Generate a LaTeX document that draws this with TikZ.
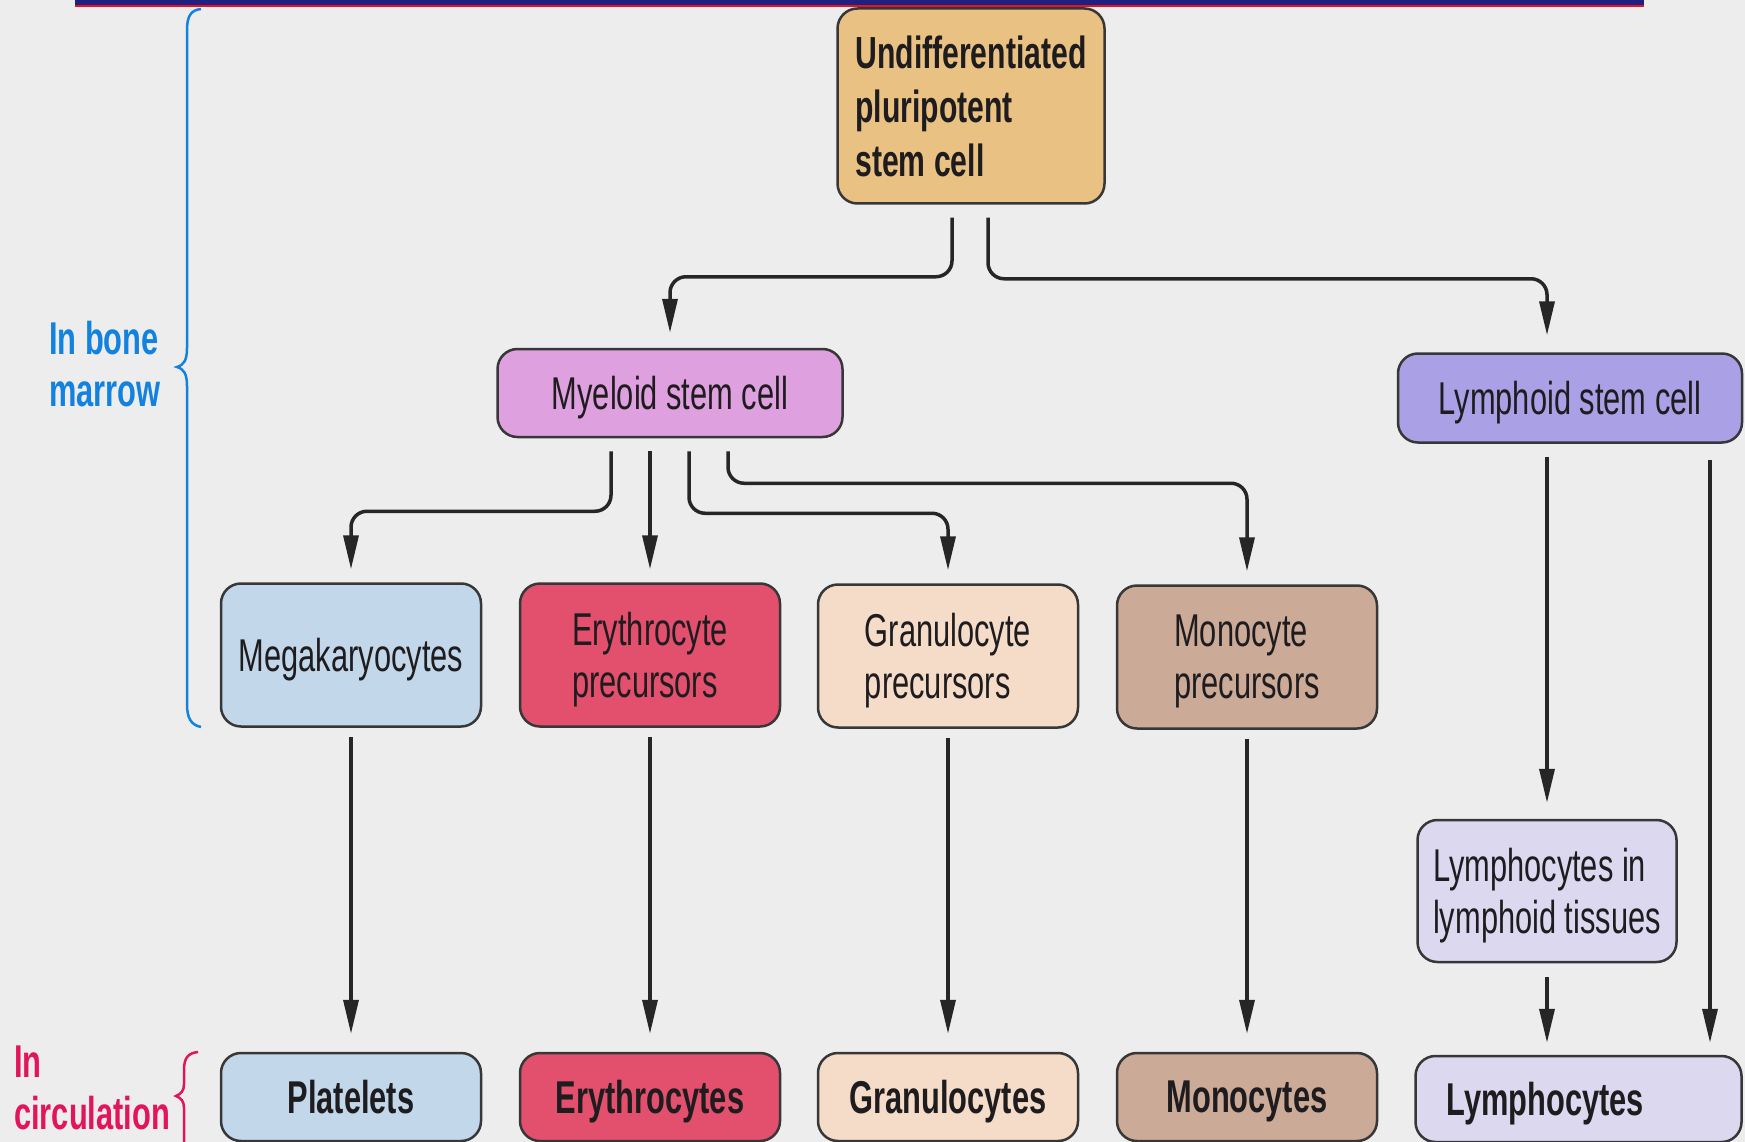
\documentclass[tikz,border=0pt]{standalone}
\usepackage{fontspec}
\setmainfont{Liberation Sans}[FakeStretch=0.67]
\usepackage{xcolor}
\usetikzlibrary{positioning,arrows.meta}

\definecolor{bgcol}{RGB}{237,237,237}
\definecolor{barnavy}{RGB}{32,32,130}
\definecolor{barred}{RGB}{225,20,35}
\definecolor{boxline}{RGB}{55,55,55}
\definecolor{txtcol}{RGB}{30,28,30}
\definecolor{stemcol}{RGB}{233,194,131}
\definecolor{myelocol}{RGB}{222,160,222}
\definecolor{lymphcol}{RGB}{170,160,230}
\definecolor{megacol}{RGB}{194,216,234}
\definecolor{erycol}{RGB}{226,80,110}
\definecolor{grancol}{RGB}{244,220,200}
\definecolor{monocol}{RGB}{203,170,152}
\definecolor{tissuecol}{RGB}{220,216,240}
\definecolor{marrowblue}{RGB}{18,130,222}
\definecolor{circred}{RGB}{226,20,90}

\begin{document}
\begin{tikzpicture}
  [x=1pt,y=-1pt,
   cell/.style={draw=boxline, line width=2.5pt, rounded corners=20pt, inner sep=0pt,
     align=left, text=txtcol, text depth=0pt, font=\fontsize{46}{52}\selectfont},
   midcell/.style={cell, minimum width=260pt, minimum height=143pt},
   endcell/.style={cell, minimum width=260pt, minimum height=88pt, align=center,
     font=\bfseries\fontsize{46}{52}\selectfont},
   conn/.style={line width=3.5pt, draw=black!85, rounded corners=16pt,
     -{Triangle[length=34pt,width=15pt]}},
   side/.style={anchor=west, align=left, inner sep=0pt, font=\bfseries\fontsize{46}{52}\selectfont}]

  \useasboundingbox (0,0) rectangle (1745,1142);
  \fill[bgcol] (0,0) rectangle (1745,1142);
  \fill[barnavy] (75,0) rectangle (1644,5);
  \fill[barred] (75,5) rectangle (1644,7.5);

  % stem cells
  \node[cell, fill=stemcol, minimum width=267pt, minimum height=195pt,
    font=\bfseries\fontsize{45}{54}\selectfont] (stem) at (971,106) {Undifferentiated\\pluripotent\\stem cell};
  \node[cell, fill=myelocol, minimum width=345pt, minimum height=88pt] (myelo) at (670,393) {Myeloid stem cell};
  \node[cell, fill=lymphcol, minimum width=344pt, minimum height=89pt] (lymph) at (1570,398) {Lymphoid stem cell};

  % precursors in bone marrow
  \node[midcell, fill=megacol] (mega) at (351,655) {Megakaryocytes};
  \node[midcell, fill=erycol] (ery) at (650,655) {Erythrocyte\\precursors};
  \node[midcell, fill=grancol] (gran) at (948,656) {Granulocyte\\precursors};
  \node[midcell, fill=monocol] (mono) at (1247,657) {Monocyte\\precursors};
  \node[cell, fill=tissuecol, minimum width=259pt, minimum height=142pt] (tissue) at (1547,891) {Lymphocytes in\\lymphoid tissues};

  % cells in circulation
  \node[endcell, fill=megacol] (plat) at (351,1097) {Platelets};
  \node[endcell, fill=erycol] (erys) at (650,1097) {Erythrocytes};
  \node[endcell, fill=grancol] (grans) at (948,1097) {Granulocytes};
  \node[endcell, fill=monocol] (monos) at (1247,1097) {Monocytes};
  \node[endcell, fill=tissuecol, align=left, text width=264pt, inner xsep=31pt,
    minimum height=86pt] (lymphs) at (1578.5,1099) {Lymphocytes};

  % branches
  \draw[conn] ([xshift=-19pt,yshift=-13pt]stem.south) -- ++(0,59) -| ([yshift=15pt]myelo.north);
  \draw[conn] ([xshift=17pt,yshift=-13pt]stem.south) -- ++(0,61) -| ([xshift=-23pt,yshift=17pt]lymph.north);
  \draw[conn] ([xshift=-59pt,yshift=-13pt]myelo.south) -- ++(0,60) -| ([yshift=13pt]mega.north);
  \draw[conn] ([xshift=-20pt,yshift=-13pt]myelo.south) -- ([yshift=13pt]ery.north);
  \draw[conn] ([xshift=19pt,yshift=-13pt]myelo.south) -- ++(0,62) -| ([yshift=13pt]gran.north);
  \draw[conn] ([xshift=58pt,yshift=-13pt]myelo.south) -- ++(0,32) -| ([yshift=13pt]mono.north);

  \foreach \from/\to in {mega/plat, ery/erys, gran/grans, mono/monos}
    \draw[conn] ([yshift=-9pt]\from.south) -- ([yshift=18pt]\to.north);

  \draw[conn] ([xshift=-23pt,yshift=-13pt]lymph.south) -- ([yshift=16pt]tissue.north);
  \draw[conn] ([yshift=-14pt]tissue.south) -- ([xshift=-31.5pt,yshift=12pt]lymphs.north);
  \draw[conn] ([xshift=140pt,yshift=-16pt]lymph.south) -- ([xshift=131.5pt,yshift=12pt]lymphs.north);

  % side labels
  \node[side, text=marrowblue] (marrow) at (49,364) {In bone\\marrow};
  \node[side, text=circred] (circ) at (14,1088) {In\\circulation};
  \draw[marrowblue, line width=2.5pt] (201,9) .. controls (191,10) and (187,16) .. (187,30)
    -- (187,348) .. controls (187,360) and (184,365) .. (177,367)
    .. controls (184,369) and (187,374) .. (187,386)
    -- (187,704) .. controls (187,718) and (191,725) .. (201,727);
  \draw[circred, line width=2.5pt] (198,1052) .. controls (188,1053) and (184,1058) .. (184,1070)
    -- (184,1084) .. controls (184,1091) and (181,1094) .. (176,1096)
    .. controls (181,1098) and (184,1101) .. (184,1108) -- (184,1142);
\end{tikzpicture}
\end{document}
